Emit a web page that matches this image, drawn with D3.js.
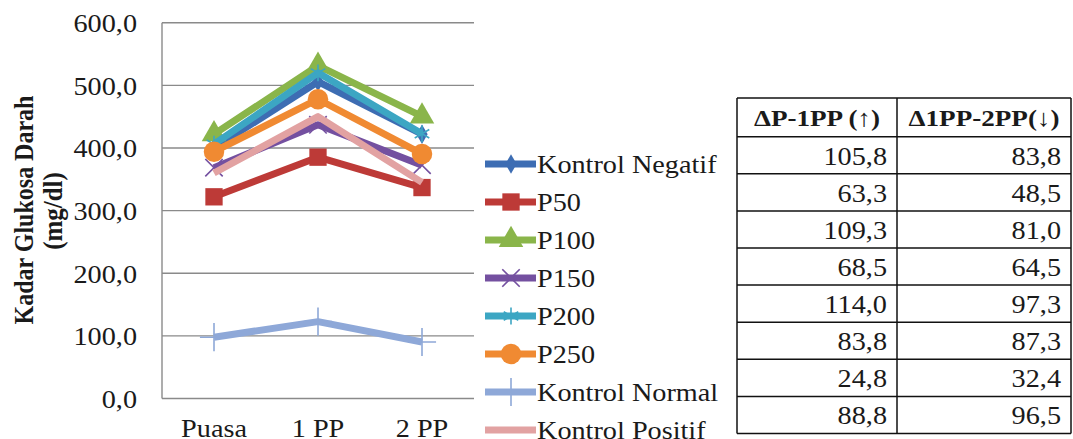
<!DOCTYPE html>
<html>
<head>
<meta charset="utf-8">
<script src="https://cdn.jsdelivr.net/npm/d3@7"></script>
<style>
  html, body { margin: 0; padding: 0; background: #fff; }
  svg { display: block; }
  svg text { font-family: "Liberation Serif", "Times New Roman", "DejaVu Serif", serif; }
</style>
</head>
<body>
<div id="chart"></div>
<script>
// data
const categories = ["Puasa", "1 PP", "2 PP"];
const seriesNames = ["Kontrol Negatif", "P50", "P100", "P150", "P200", "P250", "Kontrol Normal", "Kontrol Positif"];
const kontrolNegatif = [400.0, 505.8, 422.0];
const p50 = [322.0, 385.3, 336.8];
const p100 = [422.0, 531.3, 450.3];
const p150 = [368.5, 437.0, 372.5];
const p200 = [406.0, 520.0, 422.7];
const p250 = [394.0, 477.8, 390.5];
const kontrolNormal = [97.9, 122.7, 90.3];
const kontrolPositif = [360.0, 450.0, 345.0];
const yTicks = [0, 100, 200, 300, 400, 500, 600];
const tableHeaders = ["\u0394P-1PP (\u2191)", "\u03941PP-2PP(\u2193)"];
const deltaUp = ["105,8", "63,3", "109,3", "68,5", "114,0", "83,8", "24,8", "88,8"];
const deltaDown = ["83,8", "48,5", "81,0", "64,5", "97,3", "87,3", "32,4", "96,5"];

const seriesValues = [kontrolNegatif, p50, p100, p150, p200, p250, kontrolNormal, kontrolPositif];
const colors = ["#3D6DB3", "#BD3A37", "#8AB54A", "#7450A0", "#3CA6C3", "#F08A32", "#8EA8D8", "#E2A2A2"];
const symbols = [d3.symbolDiamond, d3.symbolSquare, d3.symbolTriangle, d3.symbolTimes, d3.symbolAsterisk, d3.symbolCircle, d3.symbolPlus, null];
const symSize = [110, 300, 260, 200, 200, 330, 260, 0];
const strokeSym = [false, false, false, true, true, false, true, false];

const stretch = 1.13;

const svg = d3.select("#chart").append("svg")
  .attr("width", 1073)
  .attr("height", 439);

const xScale = d3.scalePoint()
  .domain(categories)
  .range([162, 474])
  .padding(0.5);

const yScale = d3.scaleLinear()
  .domain([0, 600])
  .range([398.5, 22.7]);

// gridlines
svg.append("g").selectAll("line")
  .data(yTicks)
  .join("line")
  .attr("x1", 162)
  .attr("x2", 474)
  .attr("y1", d => yScale(d))
  .attr("y2", d => yScale(d))
  .attr("stroke", "#8a8a8a")
  .attr("stroke-width", 1.4);

svg.append("line")
  .attr("x1", 162).attr("x2", 162)
  .attr("y1", yScale(600)).attr("y2", yScale(0))
  .attr("stroke", "#8a8a8a")
  .attr("stroke-width", 1.4);

// y tick labels
svg.append("g").selectAll("text")
  .data(yTicks)
  .join("text")
  .text(d => d3.format(".1f")(d).replace(".", ","))
  .attr("transform", d => `translate(137,${yScale(d) + 1}) scale(${stretch},1)`)
  .attr("text-anchor", "end")
  .attr("dominant-baseline", "central")
  .attr("font-size", 25)
  .attr("fill", "#1a1a1a");

// x labels
svg.append("g").selectAll("text")
  .data(categories)
  .join("text")
  .text(d => d)
  .attr("transform", d => `translate(${xScale(d)},437) scale(${stretch},1)`)
  .attr("text-anchor", "middle")
  .attr("font-size", 25)
  .attr("fill", "#1a1a1a");

// y title
const yTitle = svg.append("g");
yTitle.append("text")
  .text("Kadar Glukosa Darah")
  .attr("transform", `translate(33,210) rotate(-90) scale(1,${stretch})`)
  .attr("text-anchor", "middle")
  .attr("font-weight", 700)
  .attr("font-size", 24)
  .attr("fill", "#1a1a1a");
yTitle.append("text")
  .text("(mg/dl)")
  .attr("transform", `translate(62,211) rotate(-90) scale(1,${stretch})`)
  .attr("text-anchor", "middle")
  .attr("font-weight", 700)
  .attr("font-size", 25)
  .attr("fill", "#1a1a1a");

// lines
const lineGen = d3.line()
  .x((d, i) => xScale(categories[i]))
  .y(d => yScale(d));

const drawMarker = (g, i, x, y) => {
  if (!symbols[i]) return;
  g.append("path")
    .attr("d", d3.symbol(symbols[i], symSize[i])())
    .attr("transform", `translate(${x},${y})`)
    .attr("fill", strokeSym[i] ? "none" : colors[i])
    .attr("stroke", colors[i])
    .attr("stroke-width", strokeSym[i] ? 1.6 : 0);
};

seriesValues.forEach((vals, i) => {
  const g = svg.append("g");
  g.append("path")
    .datum(vals)
    .attr("d", lineGen)
    .attr("fill", "none")
    .attr("stroke", colors[i])
    .attr("stroke-width", 7)
    .attr("stroke-linejoin", "round");
  vals.forEach((v, j) => drawMarker(g, i, xScale(categories[j]), yScale(v)));
});

// legend
const legend = svg.append("g");
seriesNames.forEach((name, i) => {
  const y = 164 + i * 38;
  legend.append("line")
    .attr("x1", 485).attr("x2", 536)
    .attr("y1", y).attr("y2", y)
    .attr("stroke", colors[i])
    .attr("stroke-width", 7);
  drawMarker(legend, i, 511, y);
  legend.append("text")
    .text(name)
    .attr("transform", `translate(537,${y + 1}) scale(${stretch},1)`)
    .attr("dominant-baseline", "central")
    .attr("font-size", 25)
    .attr("fill", "#1a1a1a");
});

// table
const tbl = svg.append("g");
const colX = [737, 897, 1071];
const rowY = [98, 136.7];
deltaUp.forEach((d, i) => rowY.push(136.7 + (i + 1) * 37.1));

rowY.forEach(y => tbl.append("line")
  .attr("x1", colX[0]).attr("x2", colX[2])
  .attr("y1", y).attr("y2", y)
  .attr("stroke", "#111").attr("stroke-width", 1.5));
colX.forEach(x => tbl.append("line")
  .attr("x1", x).attr("x2", x)
  .attr("y1", rowY[0]).attr("y2", rowY[rowY.length - 1])
  .attr("stroke", "#111").attr("stroke-width", 1.5));

tableHeaders.forEach((h, c) => {
  tbl.append("text")
    .text(h)
    .attr("transform", `translate(${(colX[c] + colX[c + 1]) / 2},${(rowY[0] + rowY[1]) / 2 + 1}) scale(${stretch},1)`)
    .attr("text-anchor", "middle")
    .attr("dominant-baseline", "central")
    .attr("font-weight", 700)
    .attr("font-size", 24)
    .attr("fill", "#1a1a1a");
});

[deltaUp, deltaDown].forEach((col, c) => {
  col.forEach((v, r) => {
    tbl.append("text")
      .text(v)
      .attr("transform", `translate(${colX[c + 1] - 10},${(rowY[r + 1] + rowY[r + 2]) / 2 + 1}) scale(${stretch},1)`)
      .attr("text-anchor", "end")
      .attr("dominant-baseline", "central")
      .attr("font-size", 25)
      .attr("fill", "#1a1a1a");
  });
});
</script>
</body>
</html>
